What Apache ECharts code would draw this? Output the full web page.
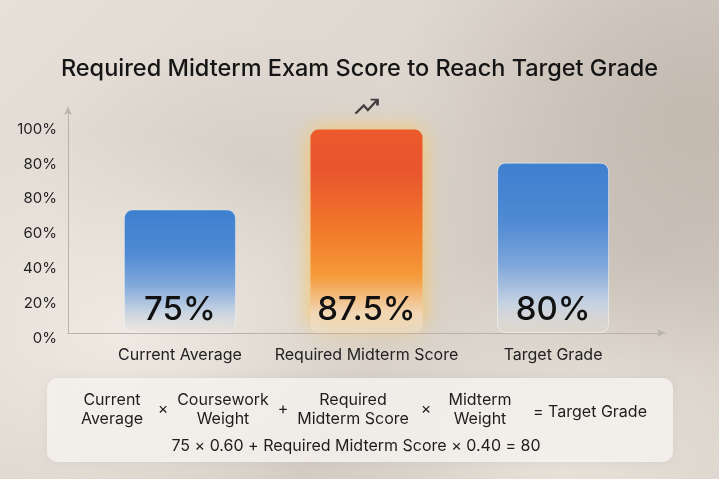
<!DOCTYPE html>
<html>
<head>
<meta charset="utf-8">
<script src="https://cdn.jsdelivr.net/npm/echarts@6/dist/echarts.min.js"></script>
<style>
html,body{margin:0;padding:0;}
body{width:719px;height:479px;overflow:hidden;
background:
 radial-gradient(ellipse 260px 200px at 120px 330px, rgba(240,235,228,0.9), rgba(240,235,228,0) 100%),
 radial-gradient(ellipse 220px 140px at 250px 170px, rgba(205,198,190,0.55), rgba(205,198,190,0) 100%),
 radial-gradient(ellipse 300px 260px at 690px 120px, rgba(190,181,171,0.8), rgba(190,181,171,0) 100%),
 radial-gradient(ellipse 260px 200px at 560px 440px, rgba(236,230,222,0.9), rgba(236,230,222,0) 100%),
 linear-gradient(135deg, #e6e0d9 0%, #ddd6ce 45%, #cfc7be 75%, #d9d1c8 100%);
}
#chart{width:719px;height:479px;}
</style>
</head>
<body>
<div id="chart"></div>
<script>
// ---- data ----
const categories = ['Current Average', 'Required Midterm Score', 'Target Grade'];
const displayValues = [75, 87.5, 80];          // values printed on the bars
const barHeights = [71, 117, 98];              // bar heights read on the drawn y scale (one tick step = 20)
const yTickValues = [0, 20, 40, 60, 80, 100, 120];
const yTickLabels = ['0%', '20%', '40%', '60%', '80%', '80%', '100%'];
const trendIndex = 1;                           // bar with the trend icon
const formulaTerms = ['Current\nAverage', '×', 'Coursework\nWeight', '+', 'Required\nMidterm Score', '×', 'Midterm\nWeight', '= Target Grade'];
const formulaLine = '75 × 0.60 + Required Midterm Score × 0.40 = 80';

// ---- styles ----
const FONT = 'Inter, "Noto Sans", sans-serif';
const blueGrad = {type:'linear',x:0,y:0,x2:0,y2:1,colorStops:[
  {offset:0,color:'#3e7fcf'},{offset:0.35,color:'#4f8ad3'},{offset:0.6,color:'#7ea6da'},
  {offset:0.82,color:'#c3d1e2'},{offset:1,color:'rgba(228,224,218,0.25)'}]};
const orangeGrad = {type:'linear',x:0,y:0,x2:0,y2:1,colorStops:[
  {offset:0,color:'#ec5a2c'},{offset:0.2,color:'#e9552e'},{offset:0.5,color:'#f27a2a'},
  {offset:0.72,color:'#f59a3a'},{offset:0.9,color:'#f1d6b4'},{offset:1,color:'rgba(238,228,214,0.4)'}]};
const barStyles = [
  {color: blueGrad, borderRadius: 8, borderColor:'rgba(255,255,255,0.35)', borderWidth:1},
  {color: orangeGrad, borderRadius: 8, shadowBlur: 22, shadowColor:'rgba(255,196,80,0.85)'},
  {color: blueGrad, borderRadius: 8, borderColor:'rgba(255,255,255,0.5)', borderWidth:1}
];

const chart = echarts.init(document.getElementById('chart'), null, {renderer:'canvas'});

const formulaX = [112, 163, 223, 283, 353, 426, 480, 590];
const formulaGraphics = formulaTerms.map((t, i) => ({
  type:'text', x: formulaX[i], y: (t === '×' || t === '+') ? 409 : (t.indexOf('\n') >= 0 ? 410 : 412),
  style:{text:t, font:'16px ' + FONT, fill:'#1e1e1e', align:'center', verticalAlign:'middle', lineHeight:19},
  z: 10
}));

chart.setOption({
  backgroundColor: 'transparent',
  animation: false,
  title: {
    text: 'Required Midterm Exam Score to Reach Target Grade',
    left: 'center', top: 52,
    textStyle: {fontFamily: FONT, fontSize: 23.5, fontWeight: 500, color: '#151515'}
  },
  grid: {left: 68, right: 54, top: 107, bottom: 146},
  xAxis: {
    type: 'value', min: -0.6, max: 2.6,
    axisLine: {show: true, onZero: false, symbol: ['none', 'arrow'], symbolSize: [6, 8], lineStyle: {color: '#b9b2aa', width: 1}},
    axisTick: {show: false}, splitLine: {show: false},
    axisLabel: {customValues: [0, 1, 2], formatter: v => categories[Math.round(v)] || '',
      margin: 14, fontFamily: FONT, fontSize: 16, color: '#222'}
  },
  yAxis: {
    type: 'value', min: 0, max: 130,
    axisLine: {show: true, onZero: false, symbol: ['none', 'arrow'], symbolSize: [6, 8], lineStyle: {color: '#b9b2aa', width: 1}},
    axisTick: {show: false}, splitLine: {show: false},
    axisLabel: {customValues: yTickValues, formatter: v => yTickLabels[yTickValues.indexOf(v)] || '',
      margin: 11, fontFamily: FONT, fontSize: 15, color: '#222', verticalAlign: 'top', lineHeight: 10}
  },
  series: [
    {
      type: 'bar', barWidth: 112,
      data: barHeights.map((h, i) => ({value: [i, h], itemStyle: barStyles[i]})),
      label: {show: true, position: 'insideBottom', distance: 6,
        formatter: p => displayValues[p.dataIndex] + '%',
        fontFamily: FONT, fontSize: 33, fontWeight: 500, color: '#111'}
    },
    {
      type: 'scatter',
      data: [[trendIndex, barHeights[trendIndex]]],
      symbol: 'path://M2,17 L8,10 L11,14 L18,5 M13,5 L18,5 L18,10',
      symbolSize: [22, 14], symbolOffset: [0, -23],
      itemStyle: {color: 'rgba(0,0,0,0)', borderColor: '#1a1a1a', borderWidth: 2.2},
      z: 5
    }
  ],
  graphic: [
    {type: 'rect', shape: {x: 47, y: 378, width: 626, height: 84, r: 10},
      style: {fill: 'rgba(247,244,240,0.82)', shadowBlur: 8, shadowColor: 'rgba(0,0,0,0.06)'}, z: 5},
    ...formulaGraphics,
    {type: 'text', x: 356, y: 446,
      style: {text: formulaLine, font: '16px ' + FONT, fill: '#1e1e1e', align: 'center', verticalAlign: 'middle'}, z: 10}
  ]
});
</script>
</body>
</html>
